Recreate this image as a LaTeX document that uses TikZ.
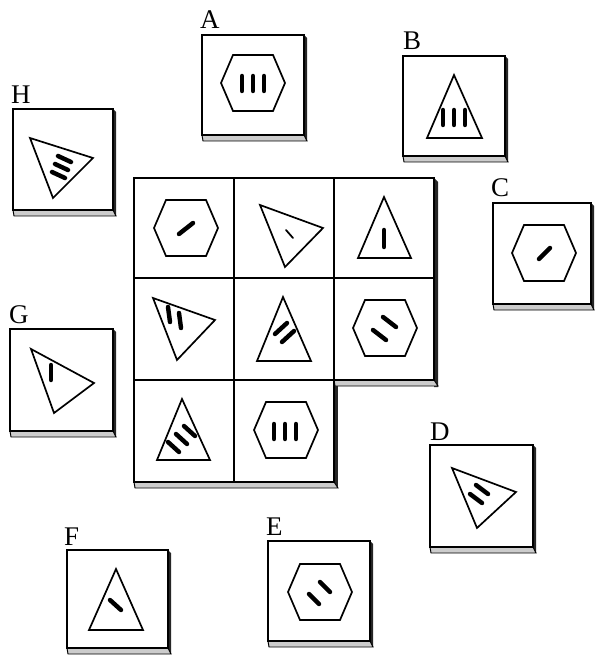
\documentclass[tikz,border=0pt]{standalone}
\usepackage{fontspec}
\setmainfont{Liberation Serif}

% answer card: left, top, right, bottom (pixel units)
\newcommand{\card}[4]{%
  \fill[black!85] (#3,#2) -- ({#3+3},{#2+3}) -- ({#3+3},{#4+6}) -- (#3,#4) -- cycle;
  \filldraw[fill=black!20,line width=0.8pt] (#1,#4) -- ({#1+1},{#4+6}) -- ({#3+3},{#4+6}) -- (#3,#4) -- cycle;
  \draw[box,fill=white] (#1,#2) rectangle (#3,#4);}
% hexagon round a centre
\newcommand{\hexa}[2]{%
  \draw[outl,shift={(#1,#2)}] (-32,0) -- (-20,-28) -- (20,-28) -- (32,0) -- (20,28) -- (-20,28) -- cycle;}

\begin{document}
\begin{tikzpicture}[x=0.03cm,y=-0.03cm,
  box/.style={line width=1.5pt},
  outl/.style={line width=1.45pt,line join=miter},
  bar/.style={line width=3.8pt,line cap=round},
  thinbar/.style={line width=1.5pt,line cap=round},
  lbl/.style={anchor=base west,inner sep=0pt,font=\fontsize{23}{23}\selectfont}]
\useasboundingbox (0,0) rectangle (596,656);

% the board
\fill[black!85] (434,178) -- (438,182) -- (438,387) -- (434,387) -- cycle;
\filldraw[fill=black!20,line width=0.8pt] (334,380) -- (335,386) -- (438,386) -- (434,380) -- cycle;
\fill[black!85] (334,386) -- (338,386) -- (338,488) -- (334,488) -- cycle;
\filldraw[fill=black!20,line width=0.8pt] (134,482) -- (135,488) -- (338,488) -- (334,482) -- cycle;
\draw[box] (134,178) -- (434,178) -- (434,380) -- (334,380) -- (334,482) -- (134,482) -- cycle;
\draw[box] (234,178) -- (234,482) (334,178) -- (334,380)
  (134,278) -- (434,278) (134,380) -- (334,380);

% row 1
\hexa{186}{228}
\draw[bar] (179,234) -- (193,223);
\draw[outl] (260,205) -- (323,228) -- (285,267) -- cycle;
\draw[thinbar] (286,230) -- (293,238);
\draw[outl] (384,197) -- (411,258) -- (358,258) -- cycle;
\draw[bar] (384,230) -- (384,247);
% row 2
\draw[outl] (153,298) -- (215,320) -- (177,360) -- cycle;
\draw[bar] (168,307) -- (170,322);
\draw[bar] (179,313) -- (181,328);
\draw[outl] (283,297) -- (311,361) -- (257,361) -- cycle;
\draw[bar] (275,334) -- (287,323);
\draw[bar] (282,342) -- (294,331);
\hexa{385}{328}
\draw[bar] (383,317) -- (396,327);
\draw[bar] (373,330) -- (386,340);
% row 3
\draw[outl] (182,399) -- (210,460) -- (157,460) -- cycle;
\draw[bar] (184,426) -- (195,436);
\draw[bar] (176,434) -- (187,444);
\draw[bar] (168,442) -- (179,452);
\hexa{286}{430}
\foreach \bx in {274,285,296}
  \draw[bar] (\bx,424) -- (\bx,439);

% A
\card{202}{35}{304}{135}
\node[lbl] (labA) at (200,29) {A};
\hexa{253}{83}
\foreach \bx in {242,253,264}
  \draw[bar] (\bx,76) -- (\bx,91);
% B
\card{403}{56}{505}{156}
\node[lbl] (labB) at (403,50) {B};
\draw[outl] (454,75) -- (482,138) -- (427,138) -- cycle;
\foreach \bx in {443,454,465}
  \draw[bar] (\bx,110) -- (\bx,125);
% C
\card{493}{203}{591}{304}
\node[lbl] (labC) at (491,197) {C};
\hexa{544}{253}
\draw[bar] (539,259) -- (550,248);
% D
\card{430}{445}{533}{547}
\node[lbl] (labD) at (430,440) {D};
\draw[outl] (452,468) -- (516,492) -- (477,528) -- cycle;
\draw[bar] (476,485) -- (488,494);
\draw[bar] (470,494) -- (482,503);
% E
\card{268}{541}{370}{641}
\node[lbl] (labE) at (266,535) {E};
\hexa{320}{592}
\draw[bar] (320,582) -- (330,592);
\draw[bar] (309,594) -- (319,604);
% F
\card{67}{550}{168}{648}
\node[lbl] (labF) at (64,545) {F};
\draw[outl] (116,569) -- (143,630) -- (89,630) -- cycle;
\draw[bar] (110,600) -- (121,610);
% G
\card{10}{329}{113}{431}
\node[lbl] (labG) at (9,323) {G};
\draw[outl] (31,349) -- (94,383) -- (54,413) -- cycle;
\draw[bar] (51,365) -- (51,380);
% H
\card{13}{109}{113}{210}
\node[lbl] (labH) at (11,104) {H};
\draw[outl] (30,138) -- (93,158) -- (53,198) -- cycle;
\draw[bar] (58,156) -- (71,162);
\draw[bar] (55,164) -- (68,170);
\draw[bar] (52,172) -- (65,178);
\end{tikzpicture}
\end{document}
